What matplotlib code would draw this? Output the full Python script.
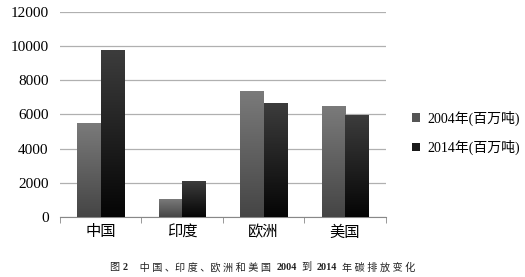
import matplotlib.pyplot as plt
import numpy as np
from matplotlib.colors import LinearSegmentedColormap
from matplotlib.patches import Patch

categories = ['中国', '印度', '欧洲', '美国']
series_names = ['2004年(百万吨)', '2014年(百万吨)']
v2004 = [5500, 1050, 7340, 6440]
v2014 = [9720, 2070, 6630, 5970]
yticks = [0, 2000, 4000, 6000, 8000, 10000, 12000]
# caption pieces: (text, bold)
caption = [('图 ', False), ('2', True), ('　 中 国 、印 度 、欧 洲 和 美 国  ', False),
           ('2004', True), ('  到  ', False), ('2014', True), ('  年 碳 排 放 变 化', False)]

plt.rcParams['font.family'] = ['Liberation Serif', 'Noto Sans CJK SC', 'DejaVu Sans']

fig = plt.figure(figsize=(5.25, 2.77), dpi=100)
ax = fig.add_axes([0.114, 0.217, 0.621, 0.74])

x = np.arange(len(categories))
w = 0.285
cmaps = [LinearSegmentedColormap.from_list('a', ['#454545', '#7a7a7a']),
         LinearSegmentedColormap.from_list('b', ['#050505', '#3c3c3c'])]
grad = np.linspace(0, 1, 100).reshape(-1, 1)

for i, vals in enumerate([v2004, v2014]):
    bars = ax.bar(x + (i - 0.5) * w, vals, w, color='none', zorder=3, label=series_names[i])
    for b in bars:
        ax.imshow(grad, cmap=cmaps[i], aspect='auto', origin='lower', zorder=3,
                  extent=[b.get_x(), b.get_x() + b.get_width(), 0, b.get_height()])

ax.set_xlim(-0.5, len(categories) - 0.5)
ax.set_ylim(0, 12000)
ax.set_yticks(yticks)
ax.tick_params(axis='y', length=0, labelsize=11, pad=8)
ax.set_xticks(x)
ax.set_xticklabels(categories, fontsize=11)
ax.tick_params(axis='x', length=0, pad=6)
ax.set_xticks(np.arange(len(categories) + 1) - 0.5, minor=True)
ax.tick_params(axis='x', which='minor', length=4, color='#888888')
ax.yaxis.grid(True, color='#b0b0b0', linewidth=0.9, zorder=0)
for s in ['top', 'right', 'left']:
    ax.spines[s].set_visible(False)
ax.spines['bottom'].set_color('#888888')

handles = [Patch(facecolor='#555555'), Patch(facecolor='#1a1a1a')]
fig.legend(handles, series_names, loc='upper left', bbox_to_anchor=(0.785, 0.60),
           frameon=False, fontsize=10, handlelength=0.6, handleheight=0.6,
           handletextpad=0.5, labelspacing=1.0, borderpad=0, borderaxespad=0)

# caption, laid out piece by piece
renderer = fig.canvas.get_renderer()
texts = []
for s, bold in caption:
    t = fig.text(0, 0.035, s, ha='left', va='center', fontsize=7.3, color='#222222',
                 fontweight='bold' if bold else 'normal')
    texts.append(t)
widths = [t.get_window_extent(renderer).width for t in texts]
xpos = (fig.bbox.width - sum(widths)) / 2
for t, wd in zip(texts, widths):
    t.set_x(xpos / fig.bbox.width)
    xpos += wd

fig.savefig('out.png', dpi=100)
